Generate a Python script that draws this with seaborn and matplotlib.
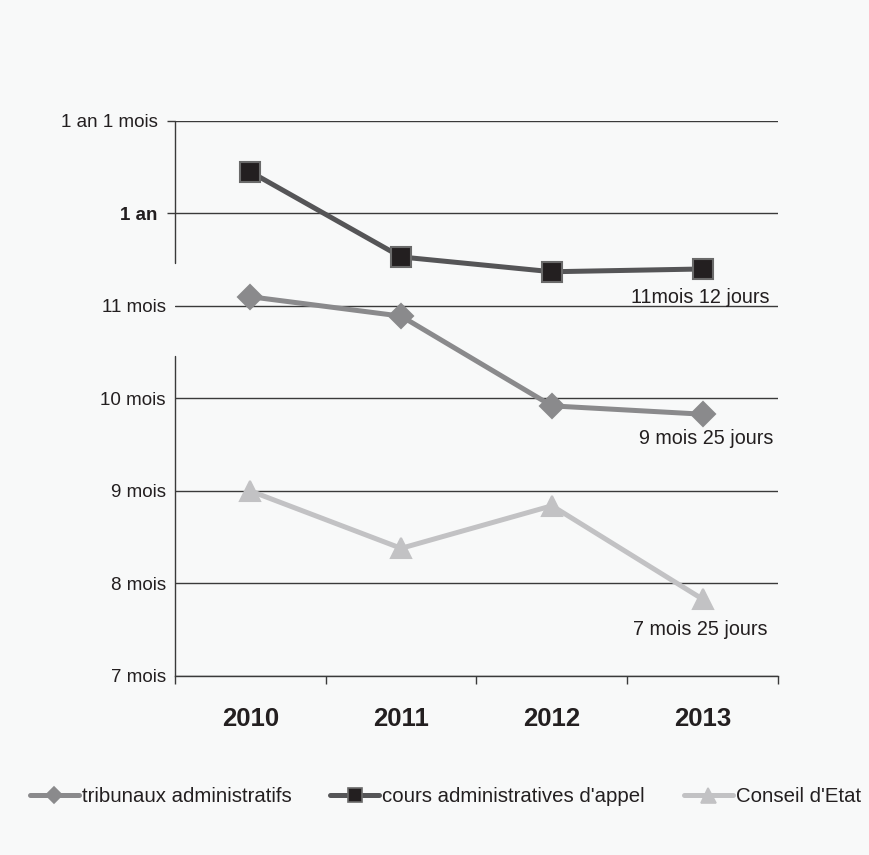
import matplotlib
matplotlib.use("Agg")
import matplotlib.pyplot as plt
import matplotlib.transforms as mtransforms
from matplotlib.lines import Line2D
import seaborn as sns
import pandas as pd

# Délais moyens de jugement (en mois)
years = ["2010", "2011", "2012", "2013"]
tribunaux = [11.10, 10.89, 9.92, 9.83]
cours = [12.45, 11.53, 11.37, 11.40]
conseil = [9.00, 8.38, 8.84, 7.83]
series_names = ["tribunaux administratifs", "cours administratives d'appel", "Conseil d'Etat"]
end_labels = ["9 mois 25 jours", "11mois 12 jours", "7 mois 25 jours"]
y_ticks = [7, 8, 9, 10, 11, 12, 13]
y_labels = ["7 mois", "8 mois", "9 mois", "10 mois", "11 mois", "1 an", "1 an 1 mois"]

sns.set_theme(style="white")
plt.rcParams["font.family"] = ["Liberation Sans", "DejaVu Sans"]

BG = "#f8f9f9"
GRID = "#3a3a3a"
TXT = "#231f20"
colors = ["#8a8a8c", "#555557", "#c2c2c4"]
face = ["#8a8a8c", "#231f20", "#c2c2c4"]
edges = ["#8a8a8c", "#6a6a6a", "#c2c2c4"]
markers = ["D", "s", "^"]
msizes = [12, 14, 15]

df = pd.DataFrame({
    "x": list(range(len(years))) * 3,
    "val": tribunaux + cours + conseil,
    "serie": [s for s in series_names for _ in years],
})

fig = plt.figure(figsize=(8.7, 8.55), dpi=100, facecolor=BG)
ax = fig.add_axes([0.2011, 0.2094, 0.6932, 0.6491], facecolor=BG)

for y in y_ticks:
    ax.axhline(y, color=GRID, lw=1.0, zorder=1)

for i, name in enumerate(series_names):
    sub = df[df["serie"] == name]
    sns.lineplot(data=sub, x="x", y="val", ax=ax, color=colors[i], lw=3.6,
                 marker=markers[i], markersize=msizes[i], markerfacecolor=face[i],
                 markeredgecolor=edges[i], markeredgewidth=1.5, zorder=3,
                 legend=False)

# étiquettes de fin de série
vals = [tribunaux, cours, conseil]
offsets = [(4, -24), (-2, -29), (-2, -30)]
for i in range(3):
    ax.annotate(end_labels[i], (len(years) - 1, vals[i][-1]), xytext=offsets[i],
                textcoords="offset pixels", ha="center", va="center",
                fontsize=14.2, color=TXT, zorder=4)

ax.set_xlim(-0.5, len(years) - 0.5)
ax.set_ylim(7, 13)
ax.set_xlabel("")
ax.set_ylabel("")

ax.set_xticks(range(len(years)))
ax.set_xticklabels(years, fontsize=18.5, fontweight="bold", color=TXT)
ax.set_xticks([i - 0.5 for i in range(len(years) + 1)], minor=True)
ax.tick_params(axis="x", which="major", length=0, pad=22)
ax.tick_params(axis="x", which="minor", length=6, width=1.0, color=GRID,
               direction="out", bottom=True)

ax.set_yticks(y_ticks)
ax.set_yticklabels(y_labels, fontsize=13.5, color=TXT)
ax.tick_params(axis="y", which="major", length=6, width=1.0, color=GRID,
               direction="out", left=True, pad=0.7)
for t, lab in zip(ax.yaxis.get_major_ticks(), y_labels):
    if lab in ("1 an", "1 an 1 mois"):
        t.label1.set_transform(t.label1.get_transform() +
                               mtransforms.ScaledTranslation(-8 / 100, 0, fig.dpi_scale_trans))
    else:
        t.tick1line.set_visible(False)
    if lab == "1 an":
        t.label1.set_fontweight("bold")

for s in ("top", "right", "left"):
    ax.spines[s].set_visible(False)
ax.spines["bottom"].set_color(GRID)
ax.spines["bottom"].set_linewidth(1.0)

# axe vertical, interrompu autour de « 11 mois »
ax.plot([-0.5, -0.5], [13, 11.47], color=GRID, lw=1.0, clip_on=False, zorder=2)
ax.plot([-0.5, -0.5], [10.46, 7], color=GRID, lw=1.0, clip_on=False, zorder=2)

handles = [Line2D([0], [0], color=colors[i], lw=3.6, marker=markers[i],
                  markersize=msizes[i] * 0.72, markerfacecolor=face[i],
                  markeredgecolor=edges[i], markeredgewidth=1.2)
           for i in range(3)]
fig.legend(handles, series_names, loc="center", bbox_to_anchor=(0.512, 0.068), ncol=3,
           frameon=False, fontsize=14.7, handlelength=2.4, handletextpad=0.15,
           columnspacing=1.9, labelcolor=TXT, borderaxespad=0)

fig.savefig("out.png", dpi=100, facecolor=BG)
